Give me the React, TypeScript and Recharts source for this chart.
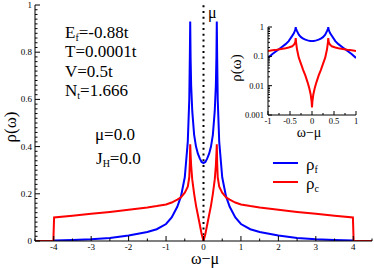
import React from "react";
import { LineChart, Line, XAxis, YAxis, ReferenceLine } from "recharts";

// main panel: omega - mu and the two spectral densities
const OMEGA = [
  -4.5, -4.01, -3.99, -3.5, -3, -2.5, -2, -1.5, -1.25, -1, -0.85, -0.7, -0.6, -0.5, -0.42, -0.38, -0.365,
  -0.355, -0.345, -0.33, -0.3, -0.25, -0.2, -0.15, -0.1, -0.05, 0, 0.05, 0.1, 0.15, 0.2, 0.25, 0.3, 0.33,
  0.345, 0.355, 0.365, 0.38, 0.42, 0.5, 0.6, 0.7, 0.85, 1, 1.25, 1.5, 2, 2.5, 3, 3.5, 3.99, 4.01, 4.5,
];
const RHO_F = [
  0, 0, 0.002, 0.004, 0.007, 0.013, 0.023, 0.038, 0.05, 0.072, 0.1, 0.145, 0.19, 0.27, 0.42, 0.6, 0.78,
  0.93, 0.78, 0.66, 0.55, 0.45, 0.4, 0.37, 0.35, 0.335, 0.33, 0.335, 0.35, 0.37, 0.4, 0.45, 0.55, 0.66,
  0.78, 0.93, 0.78, 0.6, 0.42, 0.27, 0.19, 0.145, 0.1, 0.072, 0.05, 0.038, 0.023, 0.013, 0.007, 0.004, 0.002, 0, 0,
];
const RHO_C = [
  0, 0, 0.1, 0.107, 0.115, 0.123, 0.132, 0.142, 0.148, 0.155, 0.163, 0.175, 0.185, 0.205, 0.23, 0.27, 0.33,
  0.41, 0.37, 0.32, 0.26, 0.2, 0.15, 0.11, 0.07, 0.03, 0, 0.03, 0.07, 0.11, 0.15, 0.2, 0.26, 0.32,
  0.37, 0.41, 0.33, 0.27, 0.23, 0.205, 0.185, 0.175, 0.163, 0.155, 0.148, 0.142, 0.132, 0.123, 0.115, 0.107, 0.1, 0, 0,
];

// inset (log scale)
const IN_OMEGA = [
  -1, -0.9, -0.8, -0.7, -0.6, -0.53, -0.45, -0.41, -0.38, -0.37, -0.36, -0.34, -0.3, -0.25, -0.2, -0.15,
  -0.1, -0.06, -0.03, -0.01, 0, 0.01, 0.03, 0.06, 0.1, 0.15, 0.2, 0.25, 0.3, 0.34, 0.36, 0.37, 0.38, 0.41,
  0.45, 0.53, 0.6, 0.7, 0.8, 0.9, 1,
];
const IN_RHO_F = [
  0.088, 0.12, 0.155, 0.2, 0.26, 0.33, 0.5, 0.62, 0.8, 0.98, 0.85, 0.72, 0.55, 0.45, 0.4, 0.37,
  0.35, 0.34, 0.335, 0.33, 0.33, 0.33, 0.335, 0.34, 0.35, 0.37, 0.4, 0.45, 0.55, 0.72, 0.85, 0.98, 0.8, 0.62,
  0.5, 0.33, 0.26, 0.2, 0.155, 0.12, 0.088,
];
const IN_RHO_C = [
  0.152, 0.16, 0.168, 0.178, 0.19, 0.2, 0.22, 0.25, 0.3, 0.42, 0.28, 0.17, 0.09, 0.055, 0.034, 0.022,
  0.013, 0.008, 0.005, 0.003, 0.0018, 0.003, 0.005, 0.008, 0.013, 0.022, 0.034, 0.055, 0.09, 0.17, 0.28, 0.42, 0.3, 0.25,
  0.22, 0.2, 0.19, 0.178, 0.168, 0.16, 0.152,
];

const X_MAJOR = [-4, -3, -2, -1, 0, 1, 2, 3, 4];
const X_LABELS = ["-4", "-3", "-2", "-1", "0", "1", "2", "3", "4"];
const Y_MAJOR = [0, 0.2, 0.4, 0.6, 0.8, 1];
const Y_LABELS = ["0", "0.2", "0.4", "0.6", "0.8", "1"];
const IN_X_MAJOR = [-1, -0.5, 0, 0.5, 1];
const IN_X_LABELS = ["-1", "-0.5", "0", "0.5", "1"];
const IN_Y_MAJOR = [0.001, 0.01, 0.1, 1];
const IN_Y_LABELS = ["0.001", "0.01", "0.1", "1"];

const X_TICKS = Array.from({ length: 19 }, (_, i) => -4.5 + i * 0.5);
const Y_TICKS = Array.from({ length: 51 }, (_, i) => +(i * 0.02).toFixed(2));
const IN_X_TICKS = Array.from({ length: 9 }, (_, i) => -1 + i * 0.25);
const IN_Y_TICKS = [0.001, 0.01, 0.1].flatMap((d) => [1, 2, 3, 4, 5, 6, 7, 8, 9].map((k) => +(d * k).toPrecision(3))).concat([1]);

const FONT = '"Liberation Serif", "Times New Roman", "DejaVu Serif", serif';
const BLUE = "#0000ff";
const RED = "#ff0000";

const mainData = OMEGA.map((w, i) => ({ w, f: RHO_F[i], c: RHO_C[i] }));
const insetData = IN_OMEGA.map((w, i) => ({ w, f: IN_RHO_F[i], c: IN_RHO_C[i] }));

const idx = (list: number[], v: number) => list.findIndex((m) => Math.abs(m - v) < 1e-9);
const serif = { fontFamily: FONT };

// inward ticks, drawn by hand so they point into the plot
function makeTick(side: string, majors: number[], labels: string[] | null, fs: number, off: number, big = 5, small = 2.5) {
  return (p: any) => {
    const v = p.payload.value;
    const i = idx(majors, v);
    const len = i >= 0 ? big : small;
    const { x, y } = p;
    let line;
    if (side === "bottom") line = <line x1={x} x2={x} y1={y} y2={y - len} stroke="#000" />;
    else if (side === "top") line = <line x1={x} x2={x} y1={y} y2={y + len} stroke="#000" />;
    else if (side === "left") line = <line x1={x} x2={x + len} y1={y} y2={y} stroke="#000" />;
    else line = <line x1={x} x2={x - len} y1={y} y2={y} stroke="#000" />;
    let label = null;
    if (labels && i >= 0) {
      label =
        side === "bottom" ? (
          <text x={x} y={y + off} textAnchor="middle" fontSize={fs} style={serif} fill="#000">
            {labels[i]}
          </text>
        ) : (
          <text x={x - off} y={y + 3} textAnchor="end" fontSize={fs} style={serif} fill="#000">
            {labels[i]}
          </text>
        );
    }
    return (
      <g>
        {line}
        {label}
      </g>
    );
  };
}

const axisCommon = { tickSize: 0, tickMargin: 0, tickLine: false, interval: 0 as const, stroke: "#000", allowDataOverflow: true };

function Inset() {
  return (
    <LineChart width={132} height={120} data={insetData} margin={{ top: 7, right: 4, left: 0, bottom: 0 }} style={serif}>
      <XAxis xAxisId="b" dataKey="w" type="number" domain={[-1, 1]} ticks={IN_X_TICKS} height={25}
        tick={makeTick("bottom", IN_X_MAJOR, IN_X_LABELS, 8.5, 8.5, 4, 2)} {...axisCommon} />
      <XAxis xAxisId="t" orientation="top" type="number" domain={[-1, 1]} ticks={IN_X_TICKS} height={0}
        tick={makeTick("top", IN_X_MAJOR, null, 8, 0, 4, 2)} {...axisCommon} />
      <YAxis yAxisId="l" type="number" scale="log" domain={[0.001, 1]} ticks={IN_Y_TICKS} width={40}
        tick={makeTick("left", IN_Y_MAJOR, IN_Y_LABELS, 8.5, 4, 4, 2)} {...axisCommon} />
      <YAxis yAxisId="r" orientation="right" type="number" scale="log" domain={[0.001, 1]} ticks={IN_Y_TICKS} width={0}
        tick={makeTick("right", IN_Y_MAJOR, null, 8, 0, 4, 2)} {...axisCommon} />
      <Line xAxisId="b" yAxisId="l" dataKey="f" type="linear" stroke={BLUE} strokeWidth={2} dot={false} isAnimationActive={false} />
      <Line xAxisId="b" yAxisId="l" dataKey="c" type="linear" stroke={RED} strokeWidth={2} dot={false} isAnimationActive={false} />
      <text x={8} y={48} transform="rotate(-90 8 48)" textAnchor="middle" dy="0.35em" fontSize={15} style={serif}>
        ρ(ω)
      </text>
      <text x={81} y={117} textAnchor="middle" fontSize={14} style={serif}>
        ω−μ
      </text>
    </LineChart>
  );
}

export default function App() {
  return (
    <div style={{ position: "fixed", left: 0, top: 0, width: 374, height: 268, background: "#fff", fontFamily: FONT }}>
      <div style={{ position: "absolute", left: 0, top: 0 }}>
        <LineChart width={374} height={268} data={mainData} margin={{ top: 5, right: 2, left: 0, bottom: 0 }} style={serif}>
          <XAxis xAxisId="b" dataKey="w" type="number" domain={[-4.5, 4.5]} ticks={X_TICKS} height={27}
            tick={makeTick("bottom", X_MAJOR, X_LABELS, 9, 8.5)} {...axisCommon} />
          <XAxis xAxisId="t" orientation="top" type="number" domain={[-4.5, 4.5]} ticks={X_TICKS} height={0}
            tick={makeTick("top", X_MAJOR, null, 9, 0)} {...axisCommon} />
          <YAxis yAxisId="l" type="number" domain={[0, 1]} ticks={Y_TICKS} width={35}
            tick={makeTick("left", Y_MAJOR, Y_LABELS, 9, 3)} {...axisCommon} />
          <YAxis yAxisId="r" orientation="right" type="number" domain={[0, 1]} ticks={Y_TICKS} width={0}
            tick={makeTick("right", Y_MAJOR, null, 9, 0)} {...axisCommon} />
          <ReferenceLine xAxisId="b" yAxisId="l" x={0} stroke="#000" strokeWidth={2} strokeDasharray="2 3.7" />
          <Line xAxisId="b" yAxisId="l" dataKey="f" type="linear" stroke={BLUE} strokeWidth={2} dot={false} isAnimationActive={false} />
          <Line xAxisId="b" yAxisId="l" dataKey="c" type="linear" stroke={RED} strokeWidth={2} dot={false} isAnimationActive={false} />

          <text x={10} y={127} transform="rotate(-90 10 127)" textAnchor="middle" dy="0.35em" fontSize={17} style={serif}>
            ρ(ω)
          </text>
          <text x={205} y={264} textAnchor="middle" fontSize={16} style={serif}>
            ω−μ
          </text>
          <text x={208} y={18} fontSize={16} style={serif}>
            μ
          </text>

          <g fontSize={17} fill="#000" style={serif}>
            <text x={65} y={38}>
              E<tspan fontSize={10} dy={3}>f</tspan>
              <tspan dy={-3}>=-0.88t</tspan>
            </text>
            <text x={65} y={57}>T=0.0001t</text>
            <text x={65} y={77}>V=0.5t</text>
            <text x={65} y={96}>
              N<tspan fontSize={10} dy={3}>t</tspan>
              <tspan dy={-3}>=1.666</tspan>
            </text>
            <text x={95} y={140}>μ=0.0</text>
            <text x={96} y={164}>
              J<tspan fontSize={10} dy={3}>H</tspan>
              <tspan dy={-3}>=0.0</tspan>
            </text>
          </g>

          <g fontSize={17} fill="#000" style={serif}>
            <line x1={273} x2={298} y1={163} y2={163} stroke={BLUE} strokeWidth={2} />
            <text x={306} y={170}>
              ρ<tspan fontSize={10} dy={3}>f</tspan>
            </text>
            <line x1={273} x2={298} y1={182} y2={182} stroke={RED} strokeWidth={2} />
            <text x={306} y={189}>
              ρ<tspan fontSize={10} dy={3}>c</tspan>
            </text>
          </g>
        </LineChart>
      </div>
      <div style={{ position: "absolute", left: 228, top: 20 }}>
        <Inset />
      </div>
    </div>
  );
}
